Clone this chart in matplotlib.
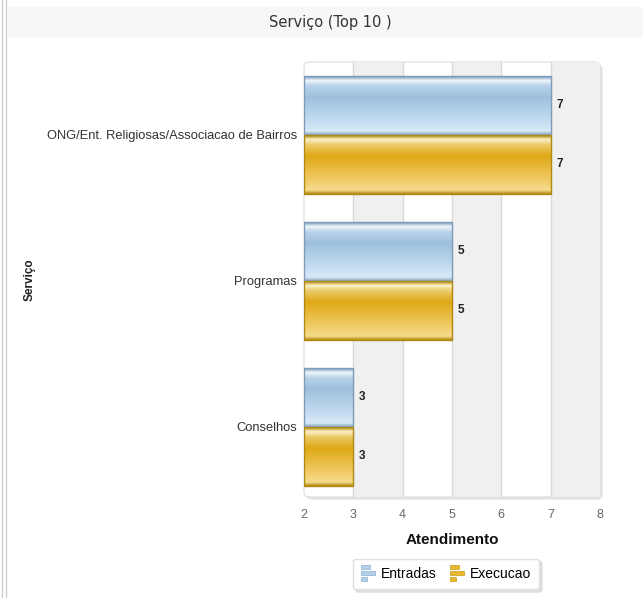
import matplotlib.pyplot as plt
import numpy as np
from matplotlib.patches import FancyBboxPatch, Rectangle
from matplotlib.colors import LinearSegmentedColormap
from matplotlib.legend_handler import HandlerBase
from matplotlib.lines import Line2D

# data
categories = ['ONG/Ent. Religiosas/Associacao de Bairros', 'Programas', 'Conselhos']
entradas = [7, 5, 3]
execucao = [7, 5, 3]
series_names = ['Entradas', 'Execucao']
x_ticks = [2, 3, 4, 5, 6, 7, 8]

W, H = 643, 598
fig = plt.figure(figsize=(W / 100, H / 100), dpi=100)
fig.patch.set_facecolor('white')

def fx(px):
    return px / W

def fy(py):
    return 1 - py / H

# page frame: header band and left border lines
fig.patches.append(Rectangle((fx(8), fy(38)), 1, fy(7) - fy(38), transform=fig.transFigure,
                             facecolor='#f7f7f7', edgecolor='none', zorder=-2))
for xp in (2, 6):
    fig.lines.append(Line2D([fx(xp), fx(xp)], [0, 1], transform=fig.transFigure,
                            color='#cfcfcf', lw=1, zorder=-2))
fig.text(fx(330), fy(23), 'Serviço (Top 10 )', ha='center', va='center',
         fontsize=10.5, color='#333333', family='DejaVu Sans')

# plot box with soft shadow
x0, x1, y0, y1 = 304, 600, 62, 497
for off, col in ((3, '#ececec'), (1.5, '#dcdcdc')):
    fig.patches.append(FancyBboxPatch((fx(x0 + off), fy(y1 + off)), fx(x1 - x0), fy(y0) - fy(y1),
                                      boxstyle='round,pad=0,rounding_size=0.008',
                                      transform=fig.transFigure, facecolor=col,
                                      edgecolor='none', zorder=-2))
fig.patches.append(FancyBboxPatch((fx(x0), fy(y1)), fx(x1 - x0), fy(y0) - fy(y1),
                                  boxstyle='round,pad=0,rounding_size=0.008',
                                  transform=fig.transFigure, facecolor='white',
                                  edgecolor='#e2e2e2', lw=1, zorder=-1))

ax = fig.add_axes([fx(x0), fy(y1), fx(x1 - x0), fy(y0) - fy(y1)])
ax.set_facecolor('none')
for s in ax.spines.values():
    s.set_visible(False)

# alternating bands and grid
for i in range(len(x_ticks) - 1):
    if i % 2 == 1:
        ax.axvspan(x_ticks[i], x_ticks[i + 1], color='#f0f0f0', lw=0, zorder=0)
for t in x_ticks[1:-1]:
    ax.axvline(t, color='#d9d9d9', lw=1, zorder=1)

ypos = np.arange(len(categories))[::-1]
h = 0.404

blue_cmap = LinearSegmentedColormap.from_list('b', [
    (0.0, '#86a5c2'), (0.03, '#a9c2d8'), (0.07, '#f0f6fb'), (0.16, '#b9d3e9'),
    (0.35, '#9dc0de'), (0.75, '#c2dbf0'), (0.94, '#d9eaf8'), (1.0, '#86a5c2')])
gold_cmap = LinearSegmentedColormap.from_list('g', [
    (0.0, '#b38c10'), (0.03, '#d9b650'), (0.07, '#fcf1cc'), (0.16, '#eacb6a'),
    (0.35, '#dfa816'), (0.75, '#efca63'), (0.94, '#f6dc8e'), (1.0, '#b38c10')])
grad = np.linspace(0, 1, 120).reshape(-1, 1)

def gradient_bars(bars, cmap, edge):
    for b in bars:
        bx, by = b.get_x(), b.get_y()
        bw, bh = b.get_width(), b.get_height()
        ax.imshow(grad, cmap=cmap, aspect='auto', origin='upper',
                  extent=(bx, bx + bw, by, by + bh), zorder=2, interpolation='bilinear')
        b.set_facecolor('none')
        b.set_edgecolor(edge)
        b.set_linewidth(1)
        b.set_zorder(3)

bars_e = ax.barh(ypos + h / 2, [v - x_ticks[0] for v in entradas], height=h, left=x_ticks[0])
bars_x = ax.barh(ypos - h / 2, [v - x_ticks[0] for v in execucao], height=h, left=x_ticks[0])
gradient_bars(bars_e, blue_cmap, '#7e9bb8')
gradient_bars(bars_x, gold_cmap, '#b08a12')

for y, v in zip(ypos + h / 2, entradas):
    ax.text(v + 0.12, y, str(v), va='center', ha='left', fontsize=8.5, fontweight='bold',
            color='#222222', family='Liberation Sans')
for y, v in zip(ypos - h / 2, execucao):
    ax.text(v + 0.12, y, str(v), va='center', ha='left', fontsize=8.5, fontweight='bold',
            color='#222222', family='Liberation Sans')

ax.set_xlim(x_ticks[0], x_ticks[-1])
ax.set_ylim(-0.48, 2.5)
ax.set_xticks(x_ticks)
ax.set_yticks(ypos)
ax.set_yticklabels(categories)
ax.tick_params(length=0)
ax.tick_params(axis='x', pad=9, labelsize=9, labelcolor='#666666')
ax.tick_params(axis='y', pad=5, labelsize=9.3, labelcolor='#333333')
for lab in ax.get_xticklabels() + ax.get_yticklabels():
    lab.set_family('Liberation Sans')
ax.set_xlabel('Atendimento', fontsize=11, fontweight='bold', color='#111111',
              family='Liberation Sans', labelpad=8)

fig.text(fx(30), fy(280), 'Serviço', rotation=90, ha='center', va='center',
         fontsize=8.5, fontweight='bold', color='#222222', family='Liberation Sans')

# legend with small bar-chart icons
class BarIcon(HandlerBase):
    def __init__(self, color, edge):
        super().__init__()
        self.color = color
        self.edge = edge

    def create_artists(self, legend, orig, xd, yd, width, height, fontsize, trans):
        arts = []
        bh, gap = 3.0, 1.2
        total = 3 * bh + 2 * gap
        top = yd + height / 2 + total / 2
        for i, L in enumerate([0.65, 1.0, 0.45]):
            yy = top - (i + 1) * bh - i * gap
            arts.append(Rectangle((xd, yy), width * L, bh, facecolor=self.color,
                                  edgecolor=self.edge, lw=0.5, transform=trans))
        return arts

h1 = Rectangle((0, 0), 1, 1)
h2 = Rectangle((0, 1), 1, 1)
leg = fig.legend([h1, h2], series_names, loc='center', bbox_to_anchor=(fx(446), fy(574)),
                 ncol=2, handler_map={h1: BarIcon('#b3d0ea', '#8eb0cf'),
                                      h2: BarIcon('#e8b830', '#c99a10')},
                 handlelength=1.0, handletextpad=0.4, columnspacing=1.0,
                 frameon=True, fancybox=True, shadow={'color': '#d0d0d0', 'alpha': 0.6},
                 borderpad=0.6, framealpha=1,
                 prop={'family': 'Liberation Sans', 'size': 10})
leg.get_frame().set_edgecolor('#e0e0e0')

fig.savefig('out.png', dpi=100)
